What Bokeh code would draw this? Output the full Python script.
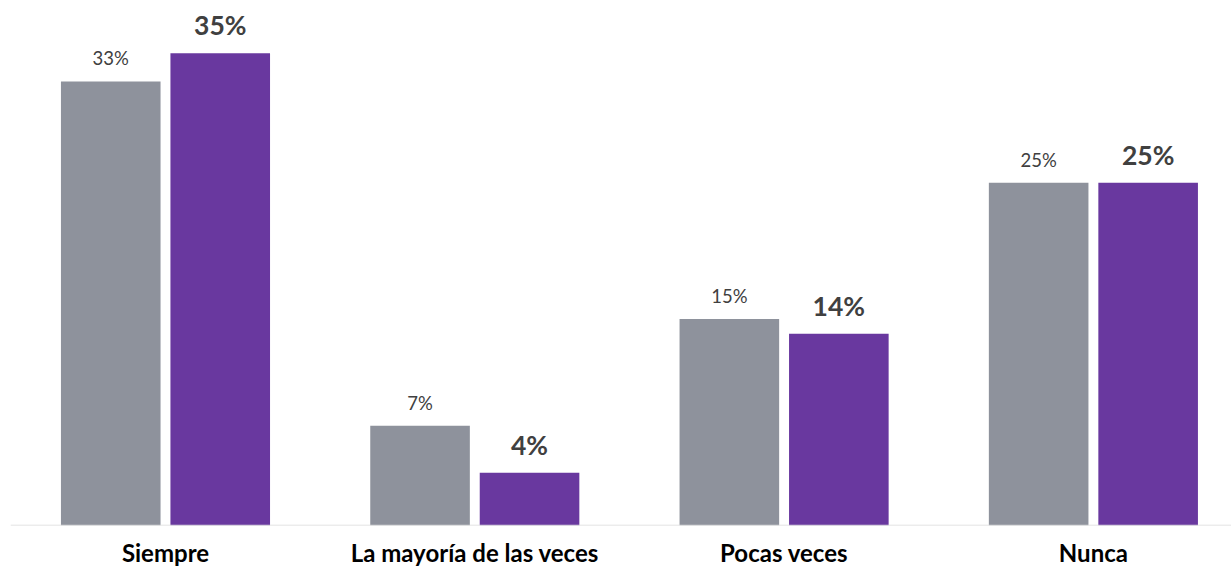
from bokeh.plotting import figure
from bokeh.models import ColumnDataSource, Range1d, Span
from bokeh.transform import dodge
from bokeh.core.properties import value
from bokeh.embed import file_html
from bokeh.resources import INLINE

categories = ["Siempre", "La mayoría de las veces", "Pocas veces", "Nunca"]
serie_gris = [32.9, 7.4, 15.3, 25.4]
serie_morada = [35.0, 3.9, 14.2, 25.4]
etiquetas_gris = ["33%", "7%", "15%", "25%"]
etiquetas_morada = ["35%", "4%", "14%", "25%"]

GRAY = "#8e929c"
PURPLE = "#69389f"

src = ColumnDataSource(dict(
    x=list(range(len(categories))),
    cat=categories,
    base=[0] * len(categories),
    g=serie_gris, m=serie_morada,
    lg=etiquetas_gris, lm=etiquetas_morada,
))

p = figure(width=1231, height=567, output_backend="svg", toolbar_location=None,
           x_range=Range1d(-0.5011, 3.4465), y_range=Range1d(0, 38.9),
           x_axis_location=None, y_axis_location=None,
           min_border_left=10, min_border_right=0,
           min_border_top=0, min_border_bottom=42, outline_line_color=None,
           background_fill_color="white", border_fill_color="white")

off = 0.177
w = 0.322
p.vbar(x=dodge("x", -off), top="g", width=w, bottom=0, source=src,
       fill_color=GRAY, line_color=None)
p.vbar(x=dodge("x", off), top="m", width=w, bottom=0, source=src,
       fill_color=PURPLE, line_color=None)

p.text(x=dodge("x", -off), y="g", text="lg", source=src, y_offset=-23,
       text_align="center", text_baseline="alphabetic",
       text_font=value("Lato"), text_font_size="18.5px", text_color="#404040")
p.text(x=dodge("x", off), y="m", text="lm", source=src, y_offset=-28,
       text_align="center", text_baseline="alphabetic",
       text_font=value("Lato"), text_font_size="26.5px", text_font_style="bold",
       text_color="#404040")

# category labels below the baseline
p.text(x="x", y="base", text="cat", source=src, y_offset=27,
       text_align="center", text_baseline="alphabetic", level="overlay",
       text_font=value("Lato"), text_font_size="24px", text_font_style="bold",
       text_color="black")

p.add_layout(Span(location=0, dimension="width", line_color="#d9d9d9",
                  line_width=1.5))

p.xgrid.visible = False
p.ygrid.visible = False

open("out.html", "w").write(file_html(p, INLINE))
